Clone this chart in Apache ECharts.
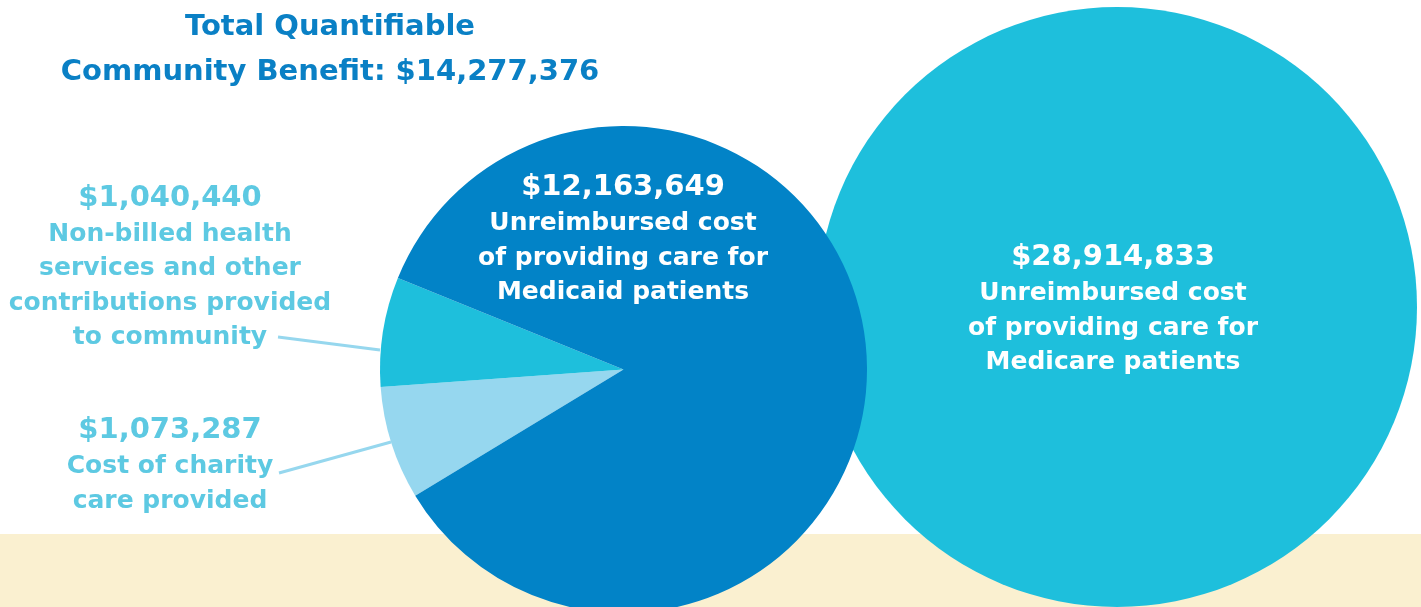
<!DOCTYPE html>
<html>
<head>
<meta charset="utf-8">
<script src="https://cdn.jsdelivr.net/npm/echarts@6/dist/echarts.min.js"></script>
<style>
  html, body { margin: 0; padding: 0; background: #fff; }
  #chart { width: 1421px; height: 607px; }
</style>
</head>
<body>
<div id="chart"></div>
<script>
// pie slices, clockwise from the lower-left edge
const sliceNames = ['Charity care', 'Non-billed services', 'Medicaid']
const sliceValues = [1073287, 1040440, 12163649]
const sliceLines = [
  ['Cost of charity', 'care provided'],
  ['Non-billed health', 'services and other', 'contributions provided', 'to community'],
  ['Unreimbursed cost', 'of providing care for', 'Medicaid patients']
]
const medicareName = 'Medicare'
const medicareValue = 28914833
const medicareLines = ['Unreimbursed cost', 'of providing care for', 'Medicare patients']
const titleLines = ['Total Quantifiable', 'Community Benefit:']

const FONT = '"DejaVu Sans", sans-serif'
const sliceColors = ['#96d7ef', '#1ebfdc', '#0283c7']
const labelBlue = '#5dc9e2'

// where each label block sits (center), and the leader lines
const sliceLabelPos = [[170, 465], [170, 267], [623, 239]]
const leaderLines = [
  [[391, 442], [279, 473]],
  [[380, 350], [278, 337]],
  null
]
const medicareLabelPos = [1113, 309]

const money = v => '$' + v.toLocaleString('en-US')
const total = sliceValues.reduce((a, b) => a + b, 0)

function labelText(value, lines) {
  return ['{v|' + money(value) + '}'].concat(lines.map(l => '{b|' + l + '}')).join('\n')
}

function richStyle(color) {
  return {
    v: { fontFamily: FONT, fontWeight: 'bold', fontSize: 29, lineHeight: 38, color, align: 'center' },
    b: { fontFamily: FONT, fontWeight: 'bold', fontSize: 25, lineHeight: 34.5, color, align: 'center' }
  }
}

const chart = echarts.init(document.getElementById('chart'))

const option = {
  animation: false,
  backgroundColor: '#fff',
  graphic: [
    {
      type: 'rect',
      shape: { x: 0, y: 534, width: 1421, height: 73 },
      style: { fill: '#faf0d0' },
      z: 0,
      silent: true
    },
    {
      type: 'text',
      x: 330,
      y: 49.5,
      style: {
        text: titleLines[0] + '\n' + titleLines[1] + ' ' + money(total),
        fontFamily: FONT,
        fontWeight: 'bold',
        fontSize: 29,
        lineHeight: 45,
        fill: '#0a80c5',
        align: 'center',
        verticalAlign: 'middle'
      },
      silent: true
    }
  ],
  series: [
    {
      type: 'pie',
      name: medicareName,
      center: [1117, 307],
      radius: [0, 300],
      silent: true,
      z: 2,
      emphasis: { disabled: true },
      itemStyle: { color: '#1ebfdc' },
      label: {
        show: true,
        position: 'center',
        formatter: () => labelText(medicareValue, medicareLines),
        rich: richStyle('#fff')
      },
      labelLine: { show: false },
      labelLayout: () => ({
        x: medicareLabelPos[0], y: medicareLabelPos[1], align: 'center', verticalAlign: 'middle'
      }),
      data: [{ name: medicareName, value: medicareValue }]
    },
    {
      type: 'pie',
      name: 'Community benefit',
      center: [623.5, 369.5],
      radius: [0, 243.5],
      startAngle: 211.2,
      clockwise: true,
      avoidLabelOverlap: false,
      silent: true,
      z: 3,
      emphasis: { disabled: true },
      labelLine: {
        show: true,
        smooth: false,
        lineStyle: { color: '#96d7ee', width: 3 }
      },
      labelLayout: (params) => {
        const i = params.dataIndex
        const res = {
          x: sliceLabelPos[i][0], y: sliceLabelPos[i][1], align: 'center', verticalAlign: 'middle'
        }
        if (leaderLines[i]) res.labelLinePoints = leaderLines[i]
        return res
      },
      data: sliceNames.map((name, i) => ({
        name,
        value: sliceValues[i],
        itemStyle: { color: sliceColors[i], borderWidth: 0 },
        label: {
          show: true,
          position: i === 2 ? 'inside' : 'outside',
          formatter: () => labelText(sliceValues[i], sliceLines[i]),
          rich: richStyle(i === 2 ? '#fff' : labelBlue)
        },
        labelLine: { show: i !== 2 }
      }))
    }
  ]
}

chart.setOption(option)
</script>
</body>
</html>
